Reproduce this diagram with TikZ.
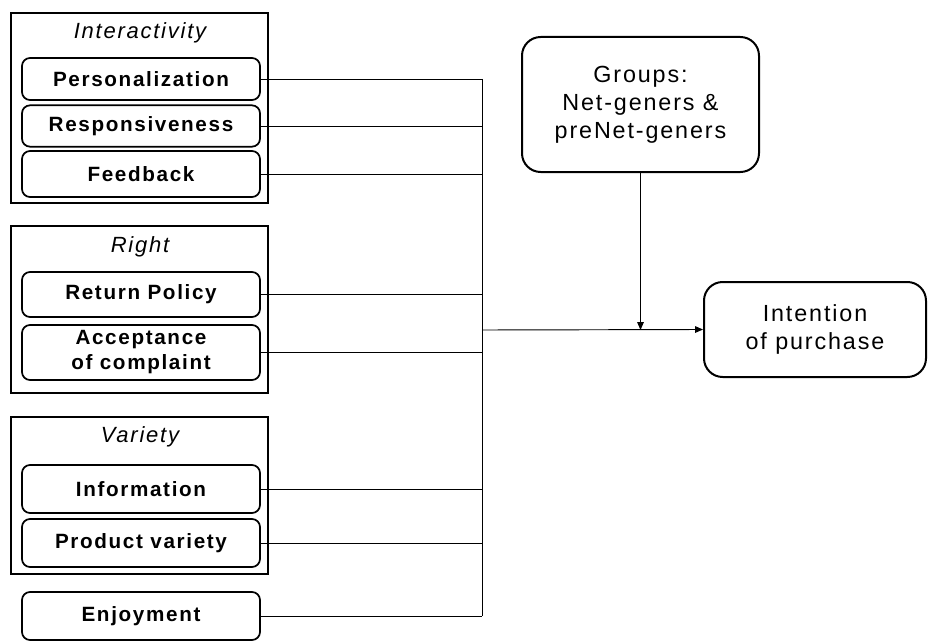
\documentclass[tikz,border=0pt]{standalone}
\usepackage{fontspec}
\setmainfont{Liberation Sans}[LetterSpace=8]
\usetikzlibrary{arrows.meta}
\newcommand{\boxsize}{\fontsize{15.5}{18.75}\selectfont}
\newcommand{\bigsize}{\fontsize{17.5}{21}\selectfont}
\tikzset{
  groupbox/.style={draw, line width=2pt},
  grouptitle/.style={font=\itshape\fontsize{16.5}{20}\selectfont},
  factor/.style={draw, rounded corners=6pt, line width=1.3pt, font=\bfseries\boxsize,
    minimum width=178.5pt, inner sep=0pt, align=center},
  bigbox/.style={draw, rounded corners=14pt, line width=1.5pt, align=center, inner sep=0pt,
    font=\bigsize},
  link/.style={line width=0.7pt},
}
\begin{document}
\begin{tikzpicture}[x=0.75pt,y=-0.75pt]
  \useasboundingbox (0,0) rectangle (928,642);
  %\draw (0,0) rectangle (928,642);
  % the three groups
  \draw[groupbox] (11,13) rectangle (268,203);
  \draw[groupbox] (11,226) rectangle (268,393);
  \draw[groupbox] (11,417) rectangle (268,574);
  \node[grouptitle] (tinter) at (140,33) {Interactivity};
  \node[grouptitle] (tright) at (140,247) {Right};
  \node[grouptitle] (tvar) at (140,437) {Variety};
  % factors
  \node[factor, minimum height=31.5pt] (pers) at (141,79) {Personalization};
  \node[factor, minimum height=31pt] (resp) at (141,126) {Responsiveness};
  \node[factor, minimum height=34.5pt] (feed) at (141,174) {Feedback};
  \node[factor, minimum height=33.75pt] (ret) at (141,294.5) {Return Policy};
  \node[factor, minimum height=41.25pt] (accept) at (141,352.5) {Acceptance\\of complaint};
  \node[factor, minimum height=36pt] (info) at (141,489) {Information};
  \node[factor, minimum height=36pt] (prod) at (141,543) {Product variety};
  \node[factor, minimum height=36pt] (enjoy) at (141,616) {Enjoyment};
  % right side
  \node[bigbox, minimum width=177.75pt, minimum height=101.25pt] (groups) at (640.5,104.5) {Groups:\\Net-geners \&\\preNet-geners};
  \node[bigbox, minimum width=166.5pt, minimum height=71.25pt] (intent) at (815,329.5) {Intention\\of purchase};
  \coordinate (jtop) at (482,79);
  \coordinate (jbot) at (482,616);
  \coordinate (jmid) at (482,330);
  % connectors
  \draw[link] (jtop) -- (jbot);
  \foreach \f in {pers,resp,feed,ret,accept,info,prod,enjoy}
    \draw[link] (\f.east) -- (\f.east -| jtop);
  \draw[link,-{Triangle[length=6pt,width=5pt]}] (jmid) -- (intent.west);
  \draw[link,-{Triangle[length=6pt,width=5pt]}] (groups.south) -- (groups.south |- jmid);
\end{tikzpicture}
\end{document}
